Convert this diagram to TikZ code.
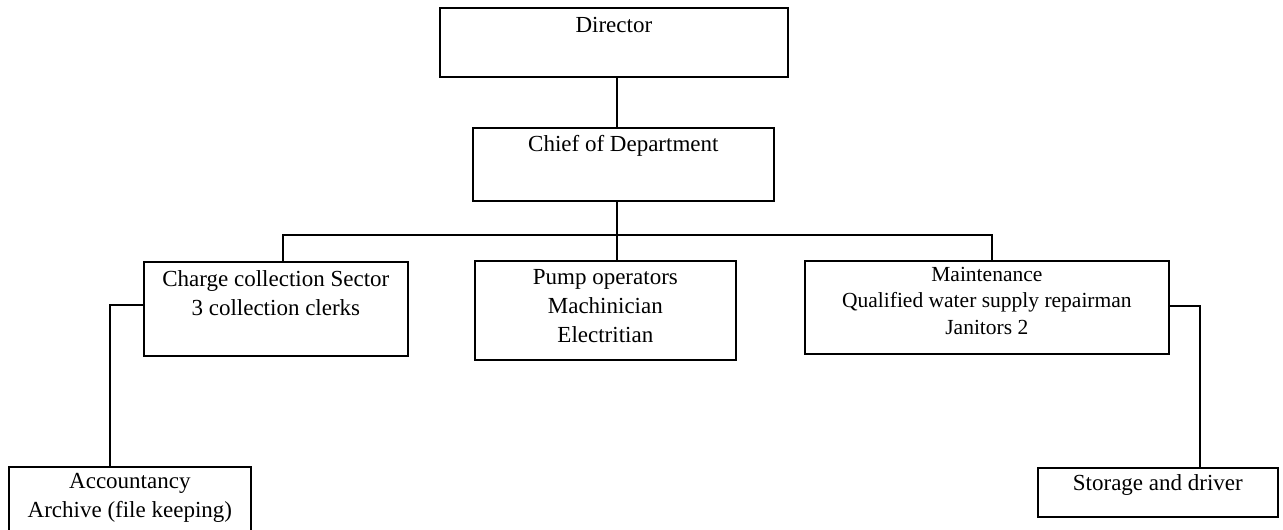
\documentclass[tikz,border=0pt]{standalone}
\usepackage{fontspec}
\setmainfont{Liberation Serif}
% invisible strut fixing the top of the first text line
\newcommand\boxstrut{\vrule height 20pt depth 0pt width 0pt}
\begin{document}
\begin{tikzpicture}[x=1pt,y=-1pt,
  orgbox/.style={draw, line width=1.7pt, inner sep=0pt, anchor=north west},
  orgtext/.style={anchor=north, inner sep=0pt, align=center, font=\fontsize{23}{29}\selectfont},
  link/.style={line width=1.8pt}]
\useasboundingbox (0,0) rectangle (1283,530);
\clip (0,0) rectangle (1283,530);

% boxes
\node[orgbox, minimum width=348pt, minimum height=69pt] (dir) at (439,7) {};
\node[orgbox, minimum width=301pt, minimum height=73pt] (chief) at (472,127) {};
\node[orgbox, minimum width=264pt, minimum height=94pt] (charge) at (143,261) {};
\node[orgbox, minimum width=261pt, minimum height=99pt] (pump) at (474,260) {};
\node[orgbox, minimum width=364pt, minimum height=93pt] (maint) at (804,260) {};
\node[orgbox, minimum width=242pt, minimum height=100pt] (acc) at (8,466) {};
\node[orgbox, minimum width=240pt, minimum height=49pt] (sto) at (1037,467) {};

% texts
\node[orgtext] (dirT) at ([yshift=-5pt]dir.north) {\boxstrut Director};
\node[orgtext] (chiefT) at ([yshift=-4pt]chief.north) {\boxstrut Chief of Department};
\node[orgtext] (chargeT) at ([yshift=-5pt]charge.north) {\boxstrut Charge collection Sector\\3 collection clerks};
\node[orgtext] (pumpT) at ([yshift=-4pt]pump.north) {\boxstrut Pump operators\\Machinician\\Electritian};
\node[orgtext, font=\fontsize{21.5}{26.5}\selectfont] (maintT) at ([yshift=-1pt]maint.north) {\boxstrut Maintenance\\Qualified water supply repairman\\Janitors 2};
\node[orgtext] (accT) at ([yshift=-2pt]acc.north) {\boxstrut Accountancy\\Archive (file keeping)};
\node[orgtext] (stoT) at ([yshift=-3pt]sto.north) {\boxstrut Storage and driver};

% connectors
\coordinate (trunk) at (617,235);
\coordinate (busL) at (283,235);
\coordinate (busR) at (992,235);
\coordinate (accJ) at (110,305);
\coordinate (stoJ) at (1200,306);
\draw[link] (dir.south -| trunk) -- (chief.north -| trunk);
\draw[link] (chief.south -| trunk) -- (pump.north -| trunk);
\draw[link] (charge.north -| busL) -- (busL) -- (busR) -- (maint.north -| busR);
\draw[link] (charge.west |- accJ) -- (accJ) -- (acc.north -| accJ);
\draw[link] (maint.east |- stoJ) -- (stoJ) -- (sto.north -| stoJ);
\end{tikzpicture}
\end{document}
